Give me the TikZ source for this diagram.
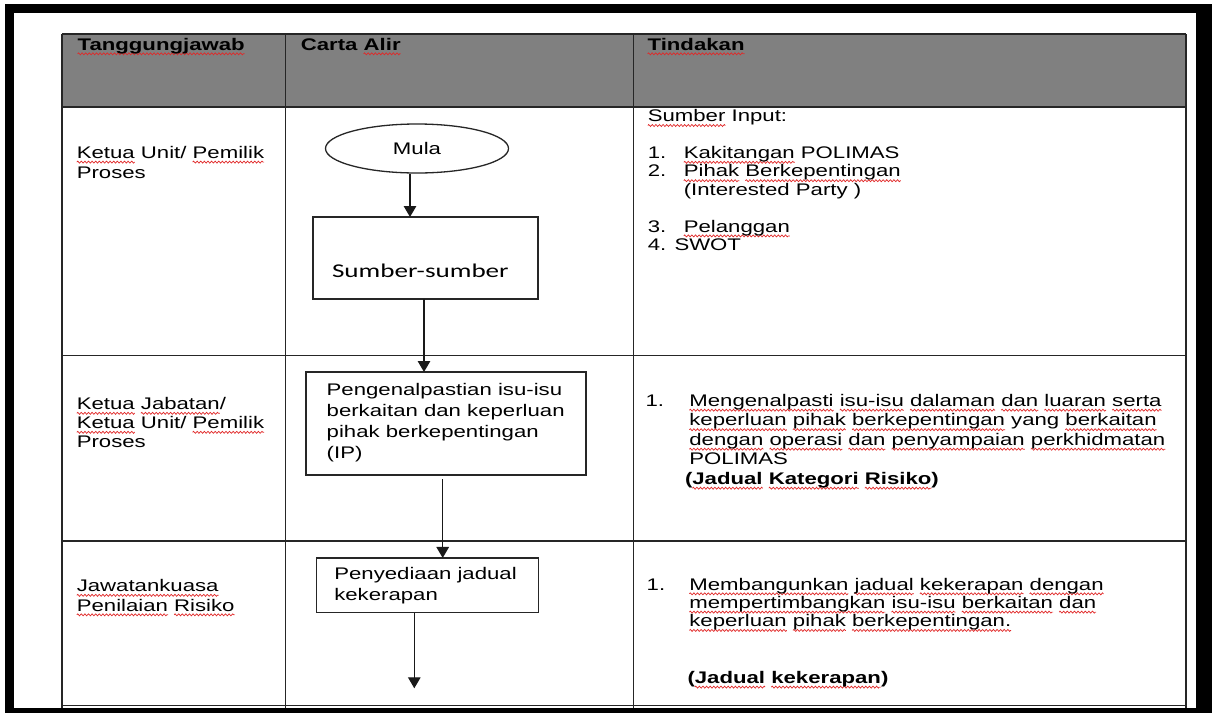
\documentclass[tikz,border=0pt]{standalone}
\usepackage{fontspec}
\setmainfont{Liberation Sans}[FakeStretch=1.32]
\newfontfamily\calfont{Carlito}[FakeStretch=1.39]
\usetikzlibrary{arrows.meta,shapes.geometric,decorations.pathmorphing}
\definecolor{squig}{RGB}{225,40,40}
\definecolor{hdr}{RGB}{128,128,128}
\newsavebox\sqbox
\newdimen\sqw
\newcommand\sq[1]{\sbox\sqbox{#1}\sqw=\wd\sqbox\rlap{\tikz[overlay,x=1pt,y=1pt,baseline=0pt]\draw[squig,line width=0.7pt,decorate,decoration={zigzag,segment length=3.6pt,amplitude=1pt}] (0,-3.8) -- (\the\sqw,-3.8);}\usebox\sqbox}
\begin{document}
\begin{tikzpicture}[x=1pt,y=-1pt,
  gridline/.style={line width=1.3pt, draw=black!85},
  box/.style={draw=black!85, line width=1.3pt, rectangle, inner sep=0pt, outer sep=0pt},
  txt/.style={anchor=base west, inner sep=0pt, outer sep=0pt},
  hdrtxt/.style={txt, font=\bfseries\fontsize{16.8}{19}\selectfont},
  arr/.style={line width=1.3pt, draw=black!90, -{Triangle[width=12.5pt,length=11pt]}}]
\useasboundingbox (0,0) rectangle (1212,713);
\fill[white] (0,0) rectangle (1212,713);
% header band
\fill[hdr] (62,34) rectangle (1186,107);
% table grid
\foreach \xx in {62,285.5,633.5,1186} \draw[gridline] (\xx,34) -- (\xx,708);
\foreach \yy in {34,107,355.5,541,705.5} \draw[gridline] (62,\yy) -- (1186,\yy);
% outer black frame
\fill[black] (5,4) rectangle (1212,13);
\fill[black] (5,4) rectangle (14,713);
\fill[black] (1196,4) rectangle (1212,713);
\fill[black] (5,708) rectangle (1212,713);
% header texts
\node[hdrtxt] (h1) at (77.6,50) {\sq{Tanggungjawab}};
\node[hdrtxt] (h2) at (300.8,50) {Carta \sq{Alir}};
\node[hdrtxt] (h3) at (647.6,50) {\sq{Tindakan}};
% left column
\node[txt, font=\fontsize{16.8}{20}\selectfont] (l1) at (76.8,158.3)
  {\begin{tabular}[t]{@{}l@{}}\sq{Ketua} Unit/ \sq{Pemilik}\\Proses\end{tabular}};
\node[txt, font=\fontsize{16.8}{19}\selectfont] (l2) at (76.8,409.5)
  {\begin{tabular}[t]{@{}l@{}}\sq{Ketua} \sq{Jabatan}/\\\sq{Ketua} Unit/ \sq{Pemilik}\\Proses\end{tabular}};
\node[txt, font=\fontsize{16.8}{19.5}\selectfont] (l3) at (76.8,591.5)
  {\begin{tabular}[t]{@{}l@{}}\sq{Jawatankuasa}\\\sq{Penilaian} \sq{Risiko}\end{tabular}};
% flow chart
\node[draw=black!85, line width=1.3pt, ellipse, minimum width=183pt, minimum height=49pt,
  inner sep=0pt, font=\fontsize{16.8}{19}\selectfont] (mula) at (417,148.5) {Mula};
\node[box, minimum width=225pt, minimum height=82pt] (sumber) at (425.5,258) {};
\node[txt, font=\calfont\fontsize{19.5}{22}\selectfont] (sumbert) at (332,277.5) {Sumber-sumber};
\node[box, minimum width=280pt, minimum height=103pt] (peng) at (446,423.5) {};
\node[txt, font=\fontsize{16.8}{20.9}\selectfont] (pengt) at (326.7,395.7)
  {\begin{tabular}[t]{@{}l@{}}Pengenalpastian isu-isu\\berkaitan dan keperluan\\pihak berkepentingan\\(IP)\end{tabular}};
\node[box, minimum width=221.6pt, minimum height=54.7pt] (peny) at (427.5,585.3) {};
\node[txt, font=\fontsize{16.8}{20.7}\selectfont] (penyt) at (334.3,579.3)
  {\begin{tabular}[t]{@{}l@{}}Penyediaan jadual\\kekerapan\end{tabular}};
\coordinate (flowend) at (414.3,688.3);
\draw[arr] ([xshift=-7pt]mula.south) -- ([xshift=-7pt]mula.south |- sumber.north);
\draw[arr] ([xshift=-1.5pt]sumber.south) -- ([xshift=-1.5pt]sumber.south |- peng.north);
\draw[arr, shorten <=4pt] ([xshift=-3.3pt]peng.south) -- ([xshift=-3.3pt]peng.south |- peny.north);
\draw[arr] (peny.south -| flowend) -- (flowend);
% right column
\node[txt, font=\fontsize{16.8}{18.4}\selectfont] (r1) at (647.8,121.7)
  {\begin{tabular}[t]{@{}l@{}}\sq{Sumber} Input:\\[18.4pt]
  \makebox[36pt][l]{1.}\sq{Kakitangan} POLIMAS\\
  \makebox[36pt][l]{2.}\sq{Pihak} \sq{Berkepentingan}\\
  \hspace*{36pt}(Interested Party )\\[18.4pt]
  \makebox[36pt][l]{3.}\sq{Pelanggan}\\
  4. SWOT\end{tabular}};
\node[txt, font=\fontsize{16.8}{19.5}\selectfont] (r2) at (645.6,406.4)
  {\begin{tabular}[t]{@{}l@{}}\makebox[43.8pt][l]{1.}\sq{Mengenalpasti} \sq{isu-isu} \sq{dalaman} \sq{dan} \sq{luaran} \sq{serta}\\
  \hspace*{43.8pt}\sq{keperluan} \sq{pihak} \sq{berkepentingan} yang \sq{berkaitan}\\
  \hspace*{43.8pt}\sq{dengan} \sq{operasi} \sq{dan} \sq{penyampaian} \sq{perkhidmatan}\\
  \hspace*{43.8pt}POLIMAS\\
  \hspace*{39.4pt}\textbf{(\sq{Jadual} \sq{Kategori} \sq{Risiko})}\end{tabular}};
\node[txt, font=\fontsize{16.8}{18.3}\selectfont] (r3) at (646.7,590)
  {\begin{tabular}[t]{@{}l@{}}\makebox[42.7pt][l]{1.}\sq{Membangunkan} \sq{jadual} \sq{kekerapan} \sq{dengan}\\
  \hspace*{42.7pt}\sq{mempertimbangkan} \sq{isu-isu} \sq{berkaitan} \sq{dan}\\
  \hspace*{42.7pt}\sq{keperluan} \sq{pihak} \sq{berkepentingan.}\end{tabular}};
\node[hdrtxt] (r3b) at (687.5,683.3) {(\sq{Jadual} \sq{kekerapan})};
\end{tikzpicture}
\end{document}
